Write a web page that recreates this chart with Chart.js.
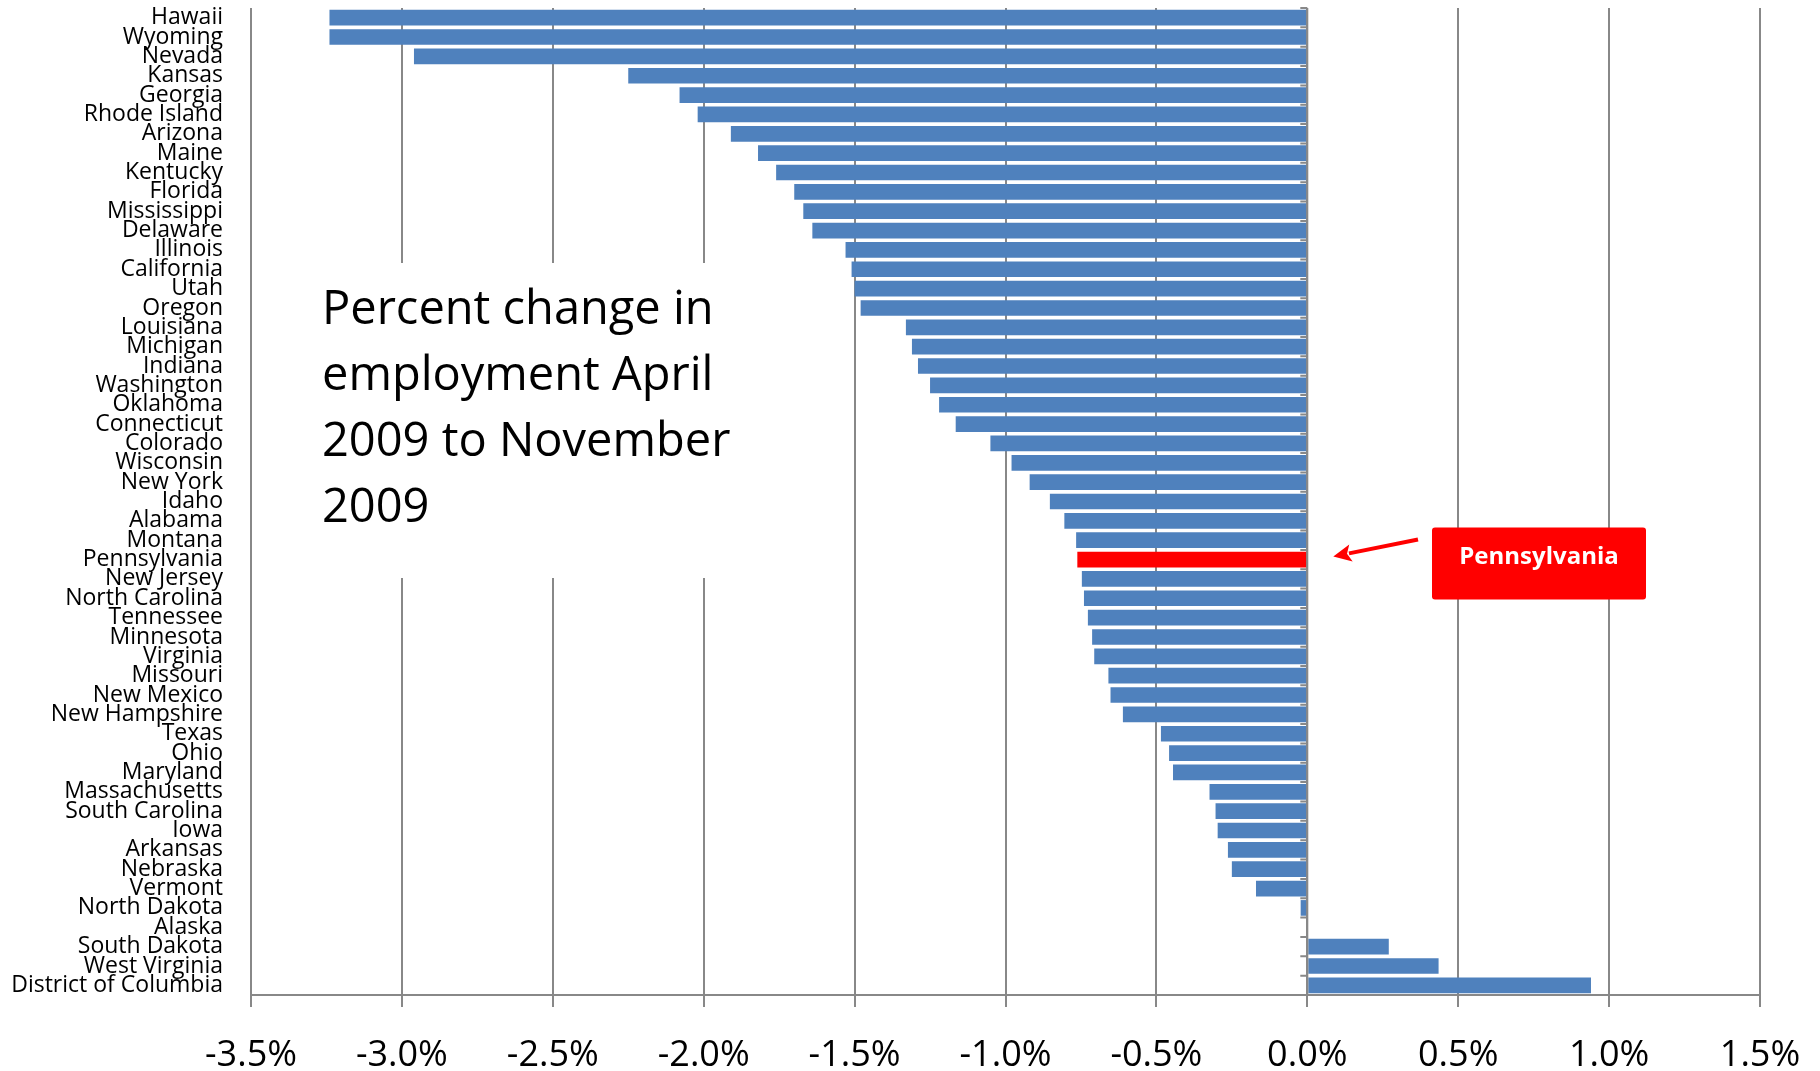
<!DOCTYPE html>
<html>
<head>
<meta charset="utf-8">
<script src="https://cdn.jsdelivr.net/npm/chart.js@4.4.1/dist/chart.umd.min.js"></script>
<style>
  html, body { margin: 0; padding: 0; background: #fff; }
  #wrap { width: 1820px; height: 1071px; }
</style>
</head>
<body>
<div id="wrap"><canvas id="chart" width="1820" height="1071"></canvas></div>
<script>
// States, ordered as in the chart (top to bottom)
const states = [
    'Hawaii', 'Wyoming', 'Nevada', 'Kansas', 'Georgia', 'Rhode Island', 'Arizona',
    'Maine', 'Kentucky', 'Florida', 'Mississippi', 'Delaware', 'Illinois', 'California',
    'Utah', 'Oregon', 'Louisiana', 'Michigan', 'Indiana', 'Washington', 'Oklahoma',
    'Connecticut', 'Colorado', 'Wisconsin', 'New York', 'Idaho', 'Alabama', 'Montana',
    'Pennsylvania', 'New Jersey', 'North Carolina', 'Tennessee', 'Minnesota', 'Virginia',
    'Missouri', 'New Mexico', 'New Hampshire', 'Texas', 'Ohio', 'Maryland',
    'Massachusetts', 'South Carolina', 'Iowa', 'Arkansas', 'Nebraska', 'Vermont',
    'North Dakota', 'Alaska', 'South Dakota', 'West Virginia', 'District of Columbia'
];

// Percent change in employment, April 2009 to November 2009
const changes = [
    -3.24, -3.24, -2.96, -2.25, -2.08, -2.02, -1.91,
    -1.82, -1.76, -1.70, -1.67, -1.64, -1.53, -1.51,
    -1.50, -1.48, -1.33, -1.31, -1.29, -1.25, -1.22,
    -1.165, -1.05, -0.98, -0.92, -0.853, -0.805, -0.766,
    -0.762, -0.747, -0.74, -0.727, -0.713, -0.706,
    -0.659, -0.652, -0.611, -0.485, -0.458, -0.445,
    -0.324, -0.304, -0.297, -0.263, -0.25, -0.17,
    -0.022, 0.0, 0.27, 0.435, 0.94
];

const highlightState = 'Pennsylvania';
const titleLines = ['Percent change in', 'employment April', '2009 to November', '2009'];

// x axis range (percent)
const axisMin = -3.5;
const axisMax = 1.5;
const axisStep = 0.5;

const barBlue = '#4F81BD';
const highlightRed = '#FF0000';
const gridGray = '#888888';
const fontFamily = '"Open Sans", Calibri, sans-serif';

const barColors = states.map(s => s === highlightState ? highlightRed : barBlue);

// White panel with the chart title, over the grid lines
const titleBlockPlugin = {
    id: 'titleBlock',
    beforeDatasetsDraw(chart) {
        const ctx = chart.ctx;
        ctx.save();
        ctx.fillStyle = '#fff';
        ctx.fillRect(292, 263, 470, 315);
        ctx.restore();
    },
    afterDraw(chart) {
        const ctx = chart.ctx;
        ctx.save();
        ctx.fillStyle = '#000';
        ctx.font = '47px ' + fontFamily;
        ctx.textAlign = 'left';
        ctx.textBaseline = 'alphabetic';
        titleLines.forEach((line, i) => {
            ctx.fillText(line, 322, 324 + i * 66);
        });
        ctx.restore();
    }
};

// Category axis drawn at 0% with small tick marks
const zeroAxisPlugin = {
    id: 'zeroAxis',
    afterDatasetsDraw(chart) {
        const { ctx, chartArea, scales } = chart;
        const x0 = scales.x.getPixelForValue(0);
        const step = (chartArea.bottom - chartArea.top) / states.length;
        ctx.save();
        ctx.strokeStyle = gridGray;
        ctx.lineWidth = 2;
        ctx.beginPath();
        ctx.moveTo(x0, chartArea.top);
        ctx.lineTo(x0, chartArea.bottom);
        for (let i = 0; i <= states.length; i++) {
            const yy = chartArea.top + i * step;
            ctx.moveTo(x0 - 7, yy);
            ctx.lineTo(x0, yy);
        }
        ctx.stroke();
        ctx.restore();
    }
};

// Red "Pennsylvania" callout with arrow
const calloutPlugin = {
    id: 'callout',
    afterDraw(chart) {
        const { ctx, scales } = chart;
        const idx = states.indexOf(highlightState);
        const yc = scales.y.getPixelForValue(idx);
        const x0 = scales.x.getPixelForValue(0);

        const boxX = 1432, boxW = 214, boxY = yc - 32, boxH = 72;
        ctx.save();
        ctx.fillStyle = highlightRed;
        ctx.beginPath();
        ctx.roundRect(boxX, boxY, boxW, boxH, 3);
        ctx.fill();

        ctx.fillStyle = '#fff';
        ctx.font = 'bold 24px ' + fontFamily;
        ctx.textAlign = 'center';
        ctx.textBaseline = 'middle';
        ctx.fillText(highlightState, boxX + boxW / 2, boxY + 30);

        // arrow
        const sx = boxX - 14, sy = yc - 20;
        const tx = x0 + 26, ty = yc - 3;
        const ang = Math.atan2(ty - sy, tx - sx);
        const head = 20;
        ctx.strokeStyle = highlightRed;
        ctx.fillStyle = highlightRed;
        ctx.lineWidth = 4;
        ctx.beginPath();
        ctx.moveTo(sx, sy);
        ctx.lineTo(tx - Math.cos(ang) * head * 0.8, ty - Math.sin(ang) * head * 0.8);
        ctx.stroke();
        ctx.beginPath();
        ctx.moveTo(tx, ty);
        ctx.lineTo(tx - head * Math.cos(ang - 0.45), ty - head * Math.sin(ang - 0.45));
        ctx.lineTo(tx - head * 0.7 * Math.cos(ang), ty - head * 0.7 * Math.sin(ang));
        ctx.lineTo(tx - head * Math.cos(ang + 0.45), ty - head * Math.sin(ang + 0.45));
        ctx.closePath();
        ctx.fill();
        ctx.restore();
    }
};

new Chart(document.getElementById('chart'), {
    type: 'bar',
    data: {
        labels: states,
        datasets: [{
            data: changes,
            backgroundColor: barColors,
            borderWidth: 0,
            barPercentage: 0.81,
            categoryPercentage: 1.0
        }]
    },
    options: {
        indexAxis: 'y',
        responsive: false,
        animation: false,
        layout: {
            padding: { top: 8, right: 60, left: 0, bottom: 0 }
        },
        scales: {
            x: {
                min: axisMin,
                max: axisMax,
                ticks: {
                    stepSize: axisStep,
                    color: '#000',
                    font: { family: fontFamily, size: 36 },
                    padding: 27,
                    callback: (v) => v.toFixed(1) + '%'
                },
                grid: {
                    color: gridGray,
                    lineWidth: 2,
                    tickLength: 12,
                    drawTicks: true
                },
                border: { display: true, color: gridGray, width: 2 },
                afterFit: (scale) => {
                    scale.height = 76;
                    scale.paddingLeft = 0;
                    scale.paddingRight = 0;
                }
            },
            y: {
                ticks: {
                    autoSkip: false,
                    color: '#000',
                    font: { family: fontFamily, size: 23 },
                    padding: 28
                },
                grid: { display: false, drawTicks: false },
                border: { display: false },
                afterFit: (scale) => {
                    scale.width = 251;
                    scale.paddingTop = 0;
                    scale.paddingBottom = 0;
                }
            }
        },
        plugins: {
            legend: { display: false },
            tooltip: { enabled: false }
        }
    },
    plugins: [titleBlockPlugin, zeroAxisPlugin, calloutPlugin]
});
</script>
</body>
</html>
